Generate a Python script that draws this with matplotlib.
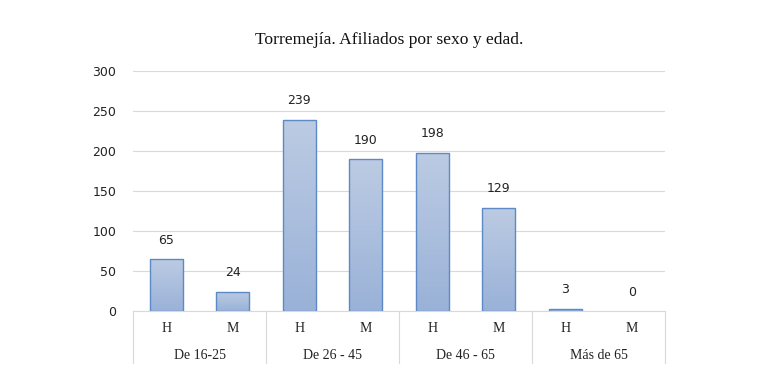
import numpy as np
import matplotlib.pyplot as plt
from matplotlib.colors import LinearSegmentedColormap

# data
groups = ['De 16-25', 'De 26 - 45', 'De 46 - 65', 'Más de 65']
sexes = ['H', 'M']
values = [65, 24, 239, 190, 198, 129, 3, 0]
yticks = [0, 50, 100, 150, 200, 250, 300]

serif = ['Liberation Serif', 'DejaVu Serif']
sans = ['DejaVu Sans']

fig = plt.figure(figsize=(7.65, 3.82), dpi=100)
ax = fig.add_axes([133 / 765, 1 - 311 / 382, 532 / 765, 240 / 382])

x = np.arange(len(values))
bars = ax.bar(x, values, width=0.5, color='none', edgecolor='#5b8ac6', linewidth=1.0, zorder=3)

# vertical gradient inside each bar
cmap = LinearSegmentedColormap.from_list('grad', ['#9ab2d8', '#bccbe3'])
grad = np.linspace(0, 1, 100).reshape(-1, 1)
for b in bars:
    h = b.get_height()
    if h <= 0:
        b.set_visible(False)
        continue
    im = ax.imshow(grad, cmap=cmap, origin='lower', aspect='auto',
                   extent=[b.get_x(), b.get_x() + b.get_width(), 0, h], zorder=2)
    im.set_clip_path(b)

for xi, v in zip(x, values):
    ax.annotate(str(v), (xi, v), xytext=(0, 9), textcoords='offset points',
                ha='center', va='bottom', fontsize=9, family=sans, color='#222222')

ax.set_xlim(-0.5, len(values) - 0.5)
ax.set_ylim(0, 300)
ax.set_yticks(yticks)
ax.set_yticklabels([str(t) for t in yticks], fontsize=9, family=sans, color='#222222')
ax.tick_params(axis='y', length=0, pad=12)
ax.grid(axis='y', color='#d9d9d9', linewidth=0.8, zorder=0)
ax.set_axisbelow(True)
for s in ['top', 'right', 'left']:
    ax.spines[s].set_visible(False)
ax.spines['bottom'].set_color('#d9d9d9')
ax.set_xticks([])

# two-level category axis
trans = ax.get_xaxis_transform()
for i in range(len(groups) + 1):
    ax.plot([i * 2 - 0.5, i * 2 - 0.5], [0, -0.215], transform=trans,
            color='#d9d9d9', linewidth=0.8, clip_on=False)
for xi in x:
    ax.text(xi, -0.075, sexes[xi % 2], transform=trans, ha='center', va='center',
            fontsize=10, family=serif, color='#222222')
for i, g in enumerate(groups):
    ax.text(i * 2 + 0.5, -0.185, g, transform=trans, ha='center', va='center',
            fontsize=10, family=serif, color='#222222')

fig.text(389 / 765, 1 - 40 / 382, 'Torremejía. Afiliados por sexo y edad.', ha='center', va='center',
         fontsize=12.6, family=serif, color='#111111')

fig.savefig('out.png', dpi=100)
